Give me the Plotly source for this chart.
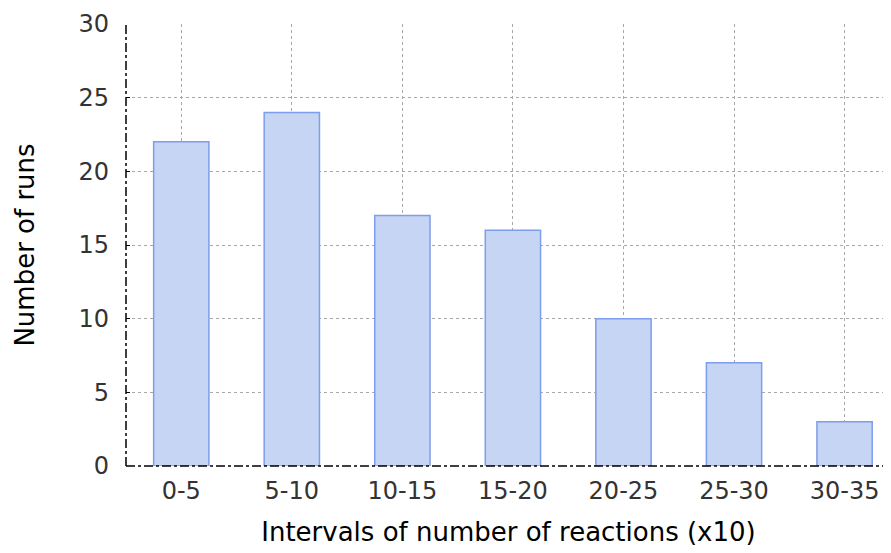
import plotly.graph_objects as go

intervals = ['0-5', '5-10', '10-15', '15-20', '20-25', '25-30', '30-35']
runs = [22, 24, 17, 16, 10, 7, 3]
y_ticks = [0, 5, 10, 15, 20, 25, 30]

font_family = 'DejaVu Sans, Lato, sans-serif'

fig = go.Figure()
fig.add_trace(go.Bar(
    x=intervals,
    y=runs,
    width=0.5,
    marker=dict(color='#c6d5f3', line=dict(color='#7d9ded', width=1.5)),
))

# dash-dot axis lines (left and bottom)
fig.add_shape(type='line', xref='paper', yref='paper', x0=0, x1=1, y0=0, y1=0,
              line=dict(color='black', width=1.5, dash='dashdot'), layer='above')
fig.add_shape(type='line', xref='paper', yref='paper', x0=0, x1=0, y0=0, y1=1,
              line=dict(color='black', width=1.5, dash='dashdot'), layer='above')

grid = dict(showgrid=True, gridcolor='#a8a8a8', griddash='dot', gridwidth=1)

fig.update_layout(
    width=891, height=553,
    margin=dict(l=118, r=8, t=16, b=95, autoexpand=False),
    paper_bgcolor='white', plot_bgcolor='white',
    showlegend=False,
    font=dict(family=font_family, size=24, color='#333333'),
    xaxis=dict(
        range=[-0.5, 6.42],
        title=dict(text='Intervals of number of reactions (x10)', standoff=18,
                   font=dict(size=26, color='black')),
        ticks='', ticklabelstandoff=8, automargin=False,
        zeroline=False, showline=False,
        **grid,
    ),
    yaxis=dict(
        range=[0, 30],
        tickvals=y_ticks,
        title=dict(text='Number of runs', standoff=36, font=dict(size=26, color='black')),
        ticks='inside', ticklen=4, tickcolor='black',
        ticklabelstandoff=16, automargin=False,
        zeroline=False, showline=False,
        **grid,
    ),
)

fig.write_html("out.html")
